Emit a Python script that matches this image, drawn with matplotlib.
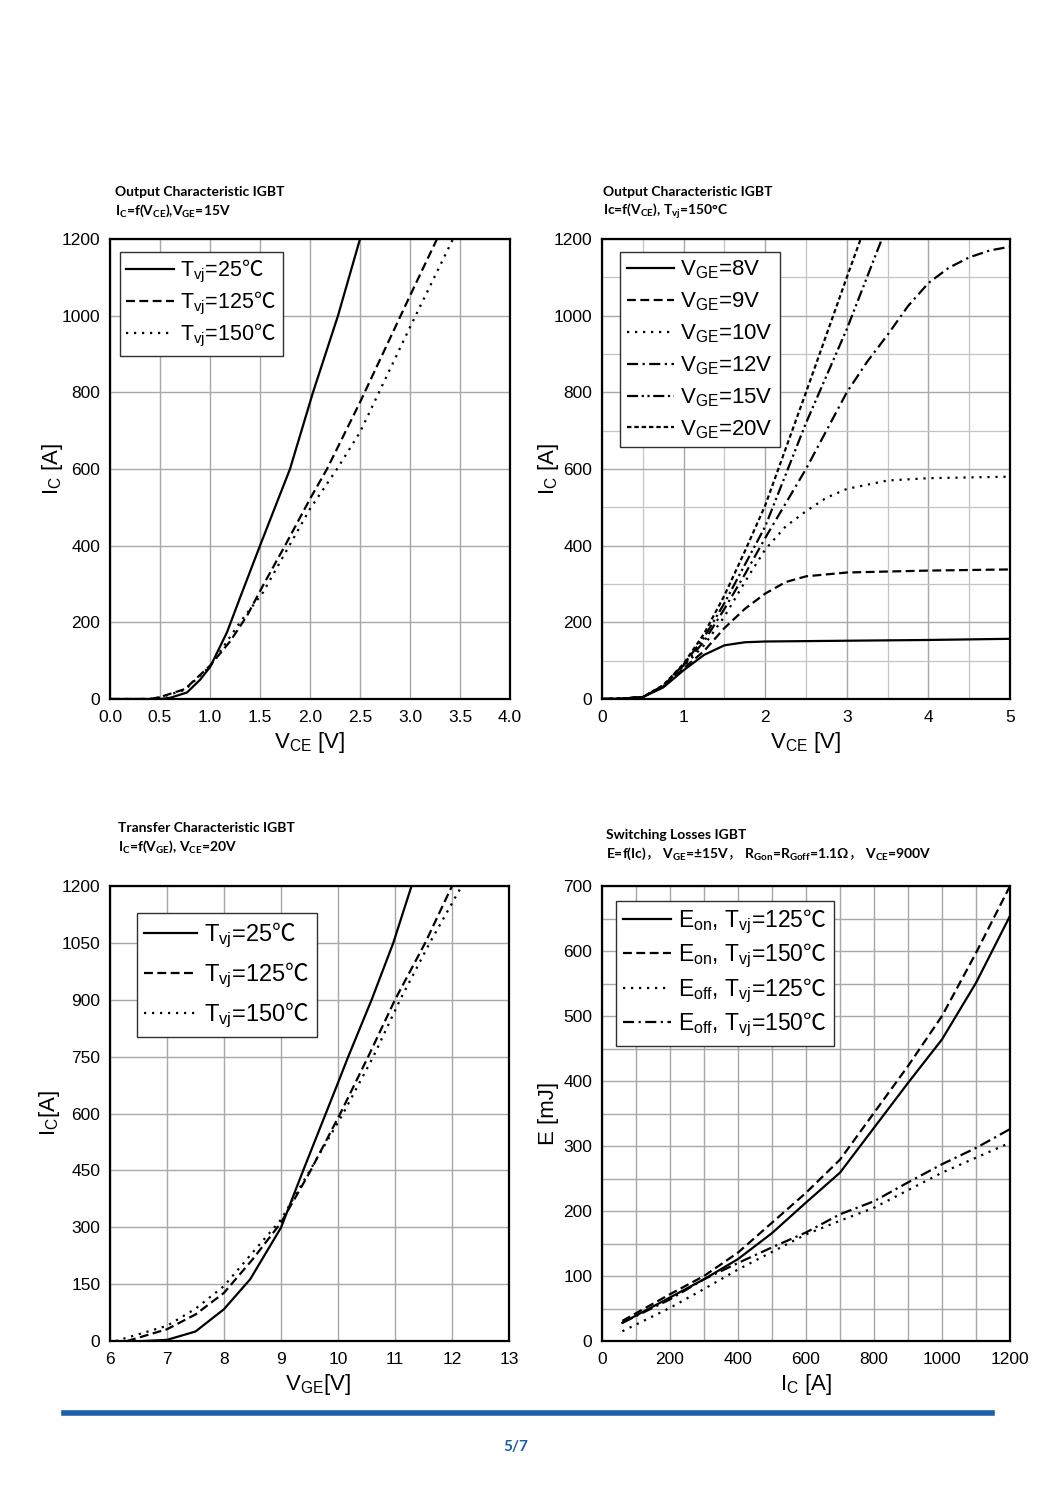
import matplotlib
matplotlib.use("Agg")
import matplotlib.pyplot as plt
from matplotlib.ticker import MultipleLocator

plt.rcParams["font.family"] = ["Liberation Sans", "Noto Sans CJK SC", "DejaVu Sans"]
plt.rcParams["mathtext.fontset"] = "custom"
plt.rcParams["mathtext.rm"] = "Liberation Sans"
plt.rcParams["mathtext.it"] = "Liberation Sans:italic"
plt.rcParams["mathtext.bf"] = "Lato:bold"
plt.rcParams["mathtext.sf"] = "Noto Sans CJK SC"

DEGC = r"$\mathsf{℃}$"
WCOMMA = r"$\mathsf{，}$"

# ---- output characteristic, VGE=15V
oc_v25 = [0, 0.5, 0.6, 0.77, 0.9, 1.0, 1.17, 1.3, 1.5, 1.8, 2.03, 2.28, 2.5]
oc_i25 = [0, 0, 3, 17, 50, 83, 174, 264, 400, 600, 800, 1000, 1200]
oc_v125 = [0, 0.4, 0.5, 0.75, 1.0, 1.2, 1.37, 1.53, 1.75, 2.0, 2.17, 2.5, 3.0, 3.27]
oc_i125 = [0, 0, 5, 26, 87, 150, 217, 296, 400, 522, 600, 774, 1052, 1200]
oc_v150 = [0, 0.4, 0.5, 0.75, 1.0, 1.3, 1.53, 1.75, 2.0, 2.27, 2.5, 3.0, 3.43]
oc_i150 = [0, 0, 4, 24, 85, 200, 278, 380, 496, 600, 696, 970, 1200]

# ---- output characteristic, Tvj=150C
v8 = [0, 0.25, 0.5, 0.75, 1.0, 1.25, 1.5, 1.75, 2.0, 2.5, 3.0, 4.0, 5.0]
i8 = [0, 1, 5, 30, 75, 115, 140, 148, 150, 151, 152, 154, 157]
v9 = [0, 0.25, 0.5, 0.75, 1.0, 1.25, 1.5, 1.75, 2.0, 2.25, 2.5, 3.0, 4.0, 5.0]
i9 = [0, 1, 5, 32, 80, 125, 185, 235, 275, 305, 320, 330, 335, 338]
v10 = [0, 0.25, 0.5, 0.75, 1.0, 1.25, 1.5, 1.75, 2.0, 2.25, 2.5, 2.75, 3.0, 3.5, 4.0, 5.0]
i10 = [0, 1, 5, 33, 85, 140, 215, 305, 390, 450, 490, 525, 548, 570, 576, 580]
v12 = [0, 0.25, 0.5, 0.75, 1.0, 1.25, 1.5, 1.75, 2.0, 2.5, 3.0, 3.25, 3.5, 3.75, 4.0, 4.25, 4.5, 4.75, 5.0]
i12 = [0, 1, 5, 34, 88, 150, 235, 325, 420, 600, 800, 880, 950, 1025, 1085, 1125, 1152, 1170, 1180]
v15 = [0, 0.25, 0.5, 0.75, 1.0, 1.25, 1.5, 1.75, 2.0, 2.5, 3.0, 3.43]
i15 = [0, 1, 5, 35, 90, 160, 250, 350, 450, 720, 965, 1200]
v20 = [0, 0.25, 0.5, 0.75, 1.0, 1.25, 1.5, 1.75, 2.0, 2.5, 3.0, 3.17]
i20 = [0, 1, 5, 36, 92, 170, 270, 385, 505, 800, 1100, 1200]

# ---- transfer characteristic, VCE=20V
tc_v25 = [6.6, 7.0, 7.5, 8.0, 8.46, 9.0, 9.39, 9.77, 10.0, 10.18, 10.59, 10.97, 11.29]
tc_i25 = [0, 3, 25, 84, 163, 299, 450, 594, 681, 750, 900, 1050, 1200]
tc_v125 = [6.3, 7.0, 7.5, 8.0, 8.5, 9.0, 9.5, 10.04, 10.53, 11.0, 11.53, 12.0]
tc_i125 = [0, 31, 70, 127, 215, 312, 444, 600, 750, 900, 1050, 1200]
tc_v150 = [6.1, 7.0, 7.5, 8.0, 8.5, 9.0, 9.5, 10.09, 10.62, 11.09, 11.61, 12.17]
tc_i150 = [0, 40, 85, 145, 233, 320, 448, 600, 750, 900, 1050, 1200]

# ---- switching losses
sw_ic = [60, 200, 300, 400, 500, 600, 700, 800, 900, 1000, 1100, 1200]
eon125 = [28, 67, 95, 126, 166, 213, 259, 328, 397, 464, 551, 654]
eon150 = [31, 72, 100, 136, 182, 228, 279, 351, 423, 500, 597, 700]
eoff125 = [15, 51, 80, 110, 137, 164, 185, 205, 232, 259, 282, 305]
eoff150 = [28, 64, 95, 120, 144, 167, 195, 215, 244, 272, 297, 326]

SOLID = "-"
DASH = (0, (4, 2))
DOT = (0, (1, 2.6))
DASHDOT = (0, (5, 2, 1, 2))
DASHDOTDOT = (0, (5, 1.6, 1, 1.6, 1, 1.6))
SHORTDASH = (0, (2, 1.3))
LW = 1.6

W, H = 1060, 1498
fig = plt.figure(figsize=(W / 100, H / 100), dpi=100)


def add_ax(x0, y0, x1, y1):
    return fig.add_axes([x0 / W, 1 - y1 / H, (x1 - x0) / W, (y1 - y0) / H])


def style(ax):
    ax.grid(True, which="both", color="#a8a8a8", lw=1.0)
    ax.set_axisbelow(True)
    for s in ax.spines.values():
        s.set_linewidth(1.6)
        s.set_color("black")
    ax.tick_params(which="both", length=0, labelsize=12.5)
    ax.tick_params(axis="x", pad=8)
    ax.tick_params(axis="y", pad=7)


def title(x, y, line1, line2):
    fam = ["Lato", "Noto Sans CJK SC", "DejaVu Sans"]
    fig.text(x / W, 1 - y / H, line1, fontsize=10, fontweight="bold", family=fam, va="center")
    fig.text(x / W, 1 - (y + 19) / H, line2, fontsize=10, fontweight="bold", family=fam, va="center")


def legend(ax, anchor, size, spacing, hlen):
    lg = ax.legend(loc="upper left", bbox_to_anchor=anchor, fontsize=size, frameon=True, fancybox=False,
                   framealpha=1, edgecolor="#303030", handlelength=hlen, handletextpad=0.3,
                   labelspacing=spacing, borderpad=0.3, borderaxespad=0)
    lg.get_frame().set_linewidth(1.0)


# top left
ax = add_ax(110, 239, 510, 699)
style(ax)
ax.plot(oc_v25, oc_i25, color="black", lw=LW, ls=SOLID, label=r"T$_{\rm vj}$=25" + DEGC)
ax.plot(oc_v125, oc_i125, color="black", lw=LW, ls=DASH, label=r"T$_{\rm vj}$=125" + DEGC)
ax.plot(oc_v150, oc_i150, color="black", lw=LW, ls=DOT, label=r"T$_{\rm vj}$=150" + DEGC)
ax.set_xlim(0, 4)
ax.set_ylim(0, 1200)
ax.xaxis.set_major_locator(MultipleLocator(0.5))
ax.yaxis.set_major_locator(MultipleLocator(200))
ax.set_xticks(ax.get_xticks(), [f"{v:.1f}" for v in ax.get_xticks()])
ax.set_xlim(0, 4)
ax.set_xlabel(r"V$_{\rm CE}$ [V]", fontsize=16)
ax.set_ylabel(r"I$_{\rm C}$ [A]", fontsize=16)
ax.xaxis.set_label_coords(0.5, -0.068)
ax.yaxis.set_label_coords(-0.112, 0.5)
legend(ax, (0.025, 0.972), 15.5, 0.22, 2.2)
title(115, 192, "Output Characteristic IGBT",
      r"I$_{\mathbf{C}}$=f(V$_{\mathbf{CE}}$),V$_{\mathbf{GE}}$=15V")

# top right
ax = add_ax(602, 239, 1010, 699)
style(ax)
ax.plot(v8, i8, color="black", lw=LW, ls=SOLID, label=r"V$_{\rm GE}$=8V")
ax.plot(v9, i9, color="black", lw=LW, ls=DASH, label=r"V$_{\rm GE}$=9V")
ax.plot(v10, i10, color="black", lw=LW, ls=DOT, label=r"V$_{\rm GE}$=10V")
ax.plot(v12, i12, color="black", lw=LW, ls=DASHDOT, label=r"V$_{\rm GE}$=12V")
ax.plot(v15, i15, color="black", lw=LW, ls=DASHDOTDOT, label=r"V$_{\rm GE}$=15V")
ax.plot(v20, i20, color="black", lw=LW, ls=SHORTDASH, label=r"V$_{\rm GE}$=20V")
ax.set_xlim(0, 5)
ax.set_ylim(0, 1200)
ax.xaxis.set_major_locator(MultipleLocator(1))
ax.xaxis.set_minor_locator(MultipleLocator(0.5))
ax.yaxis.set_major_locator(MultipleLocator(200))
ax.yaxis.set_minor_locator(MultipleLocator(100))
ax.grid(True, which="minor", color="#c4c4c4", lw=0.9)
ax.set_xlabel(r"V$_{\rm CE}$ [V]", fontsize=16)
ax.set_ylabel(r"I$_{\rm C}$ [A]", fontsize=16)
ax.xaxis.set_label_coords(0.5, -0.068)
ax.yaxis.set_label_coords(-0.101, 0.5)
legend(ax, (0.045, 0.972), 16, 0.42, 2.1)
title(603, 192, "Output Characteristic IGBT",
      r"Ic=f(V$_{\mathbf{CE}}$), T$_{\mathbf{vj}}$=150°C")

# bottom left
ax = add_ax(110, 886, 509, 1341)
style(ax)
ax.plot(tc_v25, tc_i25, color="black", lw=LW, ls=SOLID, label=r"T$_{\rm vj}$=25" + DEGC)
ax.plot(tc_v125, tc_i125, color="black", lw=LW, ls=DASH, label=r"T$_{\rm vj}$=125" + DEGC)
ax.plot(tc_v150, tc_i150, color="black", lw=LW, ls=DOT, label=r"T$_{\rm vj}$=150" + DEGC)
ax.set_xlim(6, 13)
ax.set_ylim(0, 1200)
ax.xaxis.set_major_locator(MultipleLocator(1))
ax.yaxis.set_major_locator(MultipleLocator(150))
ax.set_xlabel(r"V$_{\rm GE}$[V]", fontsize=16)
ax.set_ylabel(r"I$_{\rm C}$[A]", fontsize=16)
ax.xaxis.set_label_coords(0.52, -0.068)
ax.yaxis.set_label_coords(-0.12, 0.5)
legend(ax, (0.068, 0.94), 17, 0.45, 2.25)
title(118, 828, "Transfer Characteristic IGBT",
      r"I$_{\mathbf{C}}$=f(V$_{\mathbf{GE}}$), V$_{\mathbf{CE}}$=20V")

# bottom right
ax = add_ax(602, 886, 1010, 1341)
style(ax)
ax.plot(sw_ic, eon125, color="black", lw=LW, ls=SOLID, label=r"E$_{\rm on}$, T$_{\rm vj}$=125" + DEGC)
ax.plot(sw_ic, eon150, color="black", lw=LW, ls=DASH, label=r"E$_{\rm on}$, T$_{\rm vj}$=150" + DEGC)
ax.plot(sw_ic, eoff125, color="black", lw=LW, ls=DOT, label=r"E$_{\rm off}$, T$_{\rm vj}$=125" + DEGC)
ax.plot(sw_ic, eoff150, color="black", lw=LW, ls=DASHDOT, label=r"E$_{\rm off}$, T$_{\rm vj}$=150" + DEGC)
ax.set_xlim(0, 1200)
ax.set_ylim(0, 700)
ax.xaxis.set_major_locator(MultipleLocator(200))
ax.xaxis.set_minor_locator(MultipleLocator(100))
ax.yaxis.set_major_locator(MultipleLocator(100))
ax.yaxis.set_minor_locator(MultipleLocator(50))
ax.set_xlabel(r"I$_{\rm C}$ [A]", fontsize=16)
ax.set_ylabel("E [mJ]", fontsize=16)
ax.xaxis.set_label_coords(0.5, -0.068)
ax.yaxis.set_label_coords(-0.106, 0.5)
legend(ax, (0.035, 0.967), 16.5, 0.25, 2.1)
title(606, 835, "Switching Losses IGBT",
      r"E=f(Ic)" + WCOMMA + r" V$_{\mathbf{GE}}$=±15V" + WCOMMA + r" R$_{\mathbf{Gon}}$=R$_{\mathbf{Goff}}$=1.1Ω"
      + WCOMMA + r" V$_{\mathbf{CE}}$=900V")

# footer
fig.add_artist(plt.Line2D([64 / W, 992 / W], [1 - 1413 / H, 1 - 1413 / H], color="#1a5fa8", lw=4))
fig.text(516 / W, 1 - 1447 / H, "5/7", color="#1a5fa8", fontsize=11, fontweight="bold",
         family=["Lato", "DejaVu Sans"], ha="center", va="center")

fig.savefig("out.png", dpi=100)
